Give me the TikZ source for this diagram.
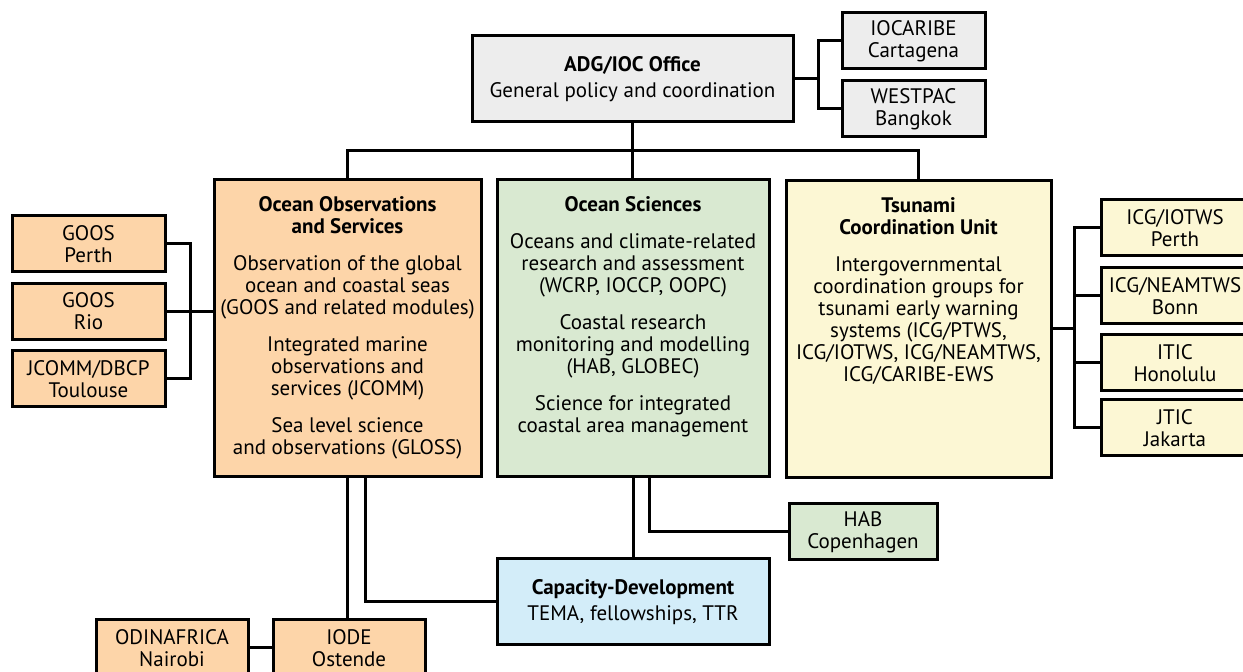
\documentclass[tikz,border=0pt]{standalone}
\usepackage{fontspec}
\setmainfont{PT Sans}
\definecolor{officegray}{HTML}{EDEDED}
\definecolor{obspeach}{HTML}{FDD5A9}
\definecolor{scigreen}{HTML}{D9E9D1}
\definecolor{tsuyellow}{HTML}{FCF7D4}
\definecolor{capblue}{HTML}{D3EDF9}
\begin{document}
\begin{tikzpicture}[x=0.5pt,y=-0.5pt]
    \tikzstyle{box} = [rectangle, draw=black, line width=1.5pt, inner sep=0pt, align=center, font=\fontsize{10.5}{11}\selectfont]
    \tikzstyle{site} = [box, minimum width=75pt, minimum height=28pt]
    \tikzstyle{unit} = [box, minimum height=148.5pt]
    \tikzstyle{unittext} = [anchor=north, align=center, inner sep=0pt, font=\fontsize{10.5}{11}\selectfont]
    \tikzstyle{line} = [line width=1.5pt]

    \path[use as bounding box, clip] (0,0) rectangle (1243,672);

    % head office and regional offices
    \node (adg) [box, fill=officegray, minimum width=160.5pt, minimum height=43pt] at (632.5,79) {\textbf{ADG/IOC Office}\\[2pt]General policy and coordination};
    \node (ioc) [site, fill=officegray, minimum width=71.5pt] at (913.5,41) {IOCARIBE\\Cartagena};
    \node (wes) [site, fill=officegray, minimum width=71.5pt] at (913.5,109) {WESTPAC\\Bangkok};

    % sections
    \node (oos) [unit, fill=obspeach, minimum width=133.5pt] at (347.5,328.5) {};
    \node (os) [unit, fill=scigreen, minimum width=136pt] at (633,328.5) {};
    \node (tcu) [unit, fill=tsuyellow, minimum width=132.5pt] at (918.5,329) {};

    \node (oostext) [unittext] at ([yshift=-9pt]oos.north) {\textbf{Ocean Observations}\\\textbf{and Services}\\[7.5pt]Observation of the global\\ocean and coastal seas\\(GOOS and related modules)\\[7.5pt]Integrated marine\\observations and\\services (JCOMM)\\[7.5pt]Sea level science\\and observations (GLOSS)};
    \node (ostext) [unittext] at ([yshift=-9pt]os.north) {\textbf{Ocean Sciences}\\[7.5pt]Oceans and climate-related\\research and assessment\\(WCRP, IOCCP, OOPC)\\[7.5pt]Coastal research\\monitoring and modelling\\(HAB, GLOBEC)\\[7.5pt]Science for integrated\\coastal area management};
    \node (tcutext) [unittext] at ([yshift=-9pt]tcu.north) {\textbf{Tsunami}\\\textbf{Coordination Unit}\\[7.5pt]Intergovernmental\\coordination groups for\\tsunami early warning\\systems (ICG/PTWS,\\ICG/IOTWS, ICG/NEAMTWS,\\ICG/CARIBE-EWS};

    % field offices
    \node (goosp) [site, fill=obspeach, minimum width=76.5pt] at (88.5,244) {GOOS\\Perth};
    \node (goosr) [site, fill=obspeach, minimum width=76.5pt] at (88.5,311.5) {GOOS\\Rio};
    \node (jcomm) [site, fill=obspeach, minimum width=76.5pt] at (88.5,379) {JCOMM/DBCP\\Toulouse};
    \node (iotws) [site, fill=tsuyellow, minimum width=74pt] at (1175,228) {ICG/IOTWS\\Perth};
    \node (neam) [site, fill=tsuyellow, minimum width=74pt] at (1175,296) {ICG/NEAMTWS\\Bonn};
    \node (itic) [site, fill=tsuyellow, minimum width=74pt] at (1175,363) {ITIC\\Honolulu};
    \node (jtic) [site, fill=tsuyellow, minimum width=74pt] at (1175,428) {JTIC\\Jakarta};
    \node (hab) [site, fill=scigreen, minimum width=74pt] at (863,532) {HAB\\Copenhagen};
    \node (cd) [box, fill=capblue, minimum width=136pt, minimum height=43pt] at (633,602) {\textbf{Capacity-Development}\\[2pt]TEMA, fellowships, TTR};
    \node (iode) [site, fill=obspeach, minimum width=76pt] at (349,648) {IODE\\Ostende};
    \node (odin) [site, fill=obspeach, minimum width=76pt] at (172,648) {ODINAFRICA\\Nairobi};

    % junctions
    \coordinate (bus) at (632.5,151);
    \coordinate (tr) at (818,79);
    \coordinate (lj) at (190,311.5);
    \coordinate (rj) at (1074,329);

    \draw [line] (adg.south) -- (adg.south |- os.north);
    \draw [line] (oos.north) |- (bus) -| (tcu.north);
    \draw [line] (adg.east) -- (tr);
    \draw [line] (ioc.west) -| (tr) |- (wes.west);
    \draw [line] (goosp.east) -| (lj) |- (jcomm.east);
    \draw [line] (goosr.east) -- (goosr.east -| oos.west);
    \draw [line] (tcu.east) -- (rj);
    \draw [line] (iotws.west) -| (rj) |- (jtic.west);
    \draw [line] (neam.west) -- (neam.west -| rj);
    \draw [line] (itic.west) -- (itic.west -| rj);
    \draw [line] (os.south) -- (os.south |- cd.north);
    \draw [line] ([xshift=8pt]os.south) |- (hab.west);
    \draw [line] (oos.south) -- (oos.south |- iode.north);
    \draw [line] ([xshift=9pt]oos.south) |- (cd.west);
    \draw [line] (odin.east) -- (iode.west);
\end{tikzpicture}
\end{document}
